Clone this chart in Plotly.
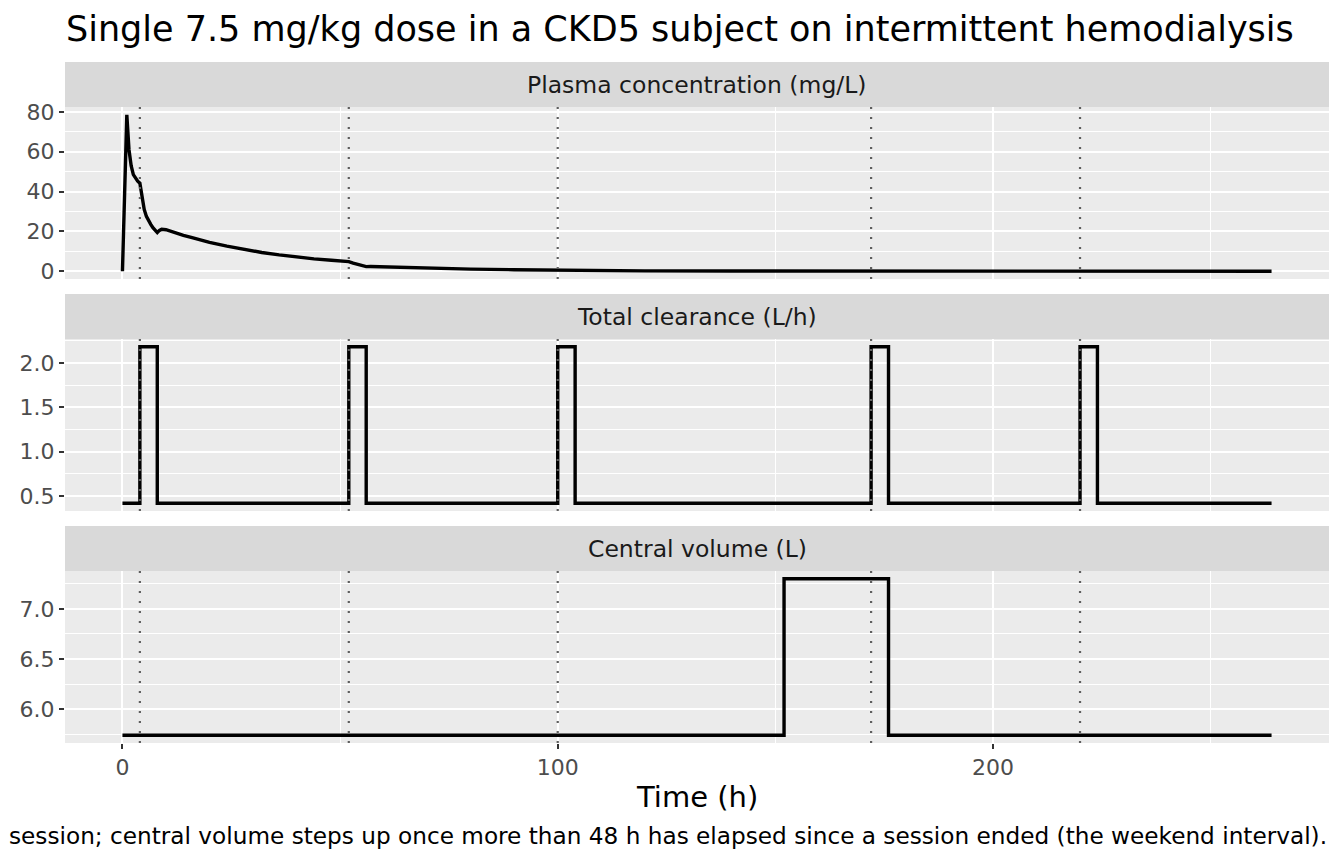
import plotly.graph_objects as go

# Data
time_conc = [0, 1, 1.5, 2, 2.5, 3, 3.5, 4, 4.5, 5, 5.5, 6, 6.5, 7, 7.5, 8, 8.5, 9,
             10, 12, 14, 16, 18, 20, 24, 28, 32, 36, 40, 44, 48, 52, 53, 54, 55, 56,
             57, 60, 70, 80, 90, 100, 102, 104, 110, 120, 140, 160, 172, 176, 200, 220, 264]
conc = [0, 78.5, 61, 53, 48.5, 46.5, 45.2, 44.2, 36, 31, 27.5, 25.2, 23.5, 21.8, 20.4, 19.4, 20.5, 21.0,
        20.8, 19.2, 18.0, 16.8, 15.6, 14.5, 12.6, 10.9, 9.4, 8.2, 7.1, 6.2, 5.5, 4.8, 4.0, 3.3, 2.8, 2.3,
        2.35, 2.15, 1.5, 1.05, 0.75, 0.55, 0.4, 0.28, 0.22, 0.16, 0.08, 0.04, 0.02, 0.01, 0.005, 0.002, 0.001]

time_cl = [0, 4, 8, 52, 56, 100, 104, 172, 176, 220, 224, 264]
clearance = [0.42, 2.18, 0.42, 2.18, 0.42, 2.18, 0.42, 2.18, 0.42, 2.18, 0.42, 0.42]

time_v = [0, 152, 176, 264]
volume = [5.74, 7.30, 5.74, 5.74]

session_starts = [4, 52, 100, 172, 220]

panel_titles = ["Plasma concentration (mg/L)", "Total clearance (L/h)", "Central volume (L)"]

title = "Single 7.5 mg/kg dose in a CKD5 subject on intermittent hemodialysis"
caption = ("session; central volume steps up once more than 48 h has elapsed "
           "since a session ended (the weekend interval).")

# the page puts the figure 8px in from the corner, so everything is laid out 8px up/left
OFF = 8
W, H = 1344 - OFF, 864 - OFF
FONT = "DejaVu Sans"

# panel geometry in pixels (top, bottom), as in the reference
panels_px = [(107, 279), (339, 511), (571, 743)]
strip_h = 45
x_left, x_right = 65, 1329


def px(p):
    return (p - OFF) / W


def py(p):
    return 1 - (p - OFF) / H


fig = go.Figure()

series = [(time_conc, conc), (time_cl, clearance), (time_v, volume)]
line_shapes = ["linear", "hv", "hv"]
for i, ((tx, ty), shp) in enumerate(zip(series, line_shapes)):
    sfx = "" if i == 0 else str(i + 1)
    fig.add_trace(go.Scatter(x=tx, y=ty, mode="lines",
                             line=dict(color="black", width=3.4, shape=shp),
                             xaxis="x" + sfx, yaxis="y" + sfx,
                             showlegend=False, hoverinfo="skip"))

ydticks = [(0, 20, 10), (0.5, 0.5, 0.25), (6.0, 0.5, 0.25)]
tickfmt = ["", ".1f", ".1f"]
TICK = 22

layout = dict(
    width=W, height=H,
    margin=dict(l=0, r=0, t=0, b=0),
    paper_bgcolor="white", plot_bgcolor="#EBEBEB",
    font=dict(family=FONT, color="#4D4D4D", size=TICK),
    showlegend=False,
)

shapes = []
annotations = []
for i, (top, bot) in enumerate(panels_px):
    sfx = "" if i == 0 else str(i + 1)
    xa = dict(domain=[px(x_left), px(x_right)], range=[-13.2, 277.2],
              anchor="y" + sfx, showgrid=True, gridcolor="white", gridwidth=2.2,
              tick0=0, dtick=100, zeroline=False, showline=False, automargin=False,
              minor=dict(tick0=0, dtick=50, showgrid=True, gridcolor="white", gridwidth=1.1),
              ticks="outside" if i == 2 else "", ticklen=5, tickcolor="#333333", tickwidth=2,
              showticklabels=(i == 2), tickfont=dict(size=TICK, color="#4D4D4D"))
    if i > 0:
        xa["matches"] = "x"
    t0, dt, mdt = ydticks[i]
    ya = dict(domain=[py(bot), py(top)], anchor="x" + sfx, showgrid=True,
              gridcolor="white", gridwidth=2.2, zeroline=False, showline=False,
              tick0=t0, dtick=dt, tickformat=tickfmt[i], automargin=False,
              minor=dict(tick0=t0, dtick=mdt, showgrid=True, gridcolor="white", gridwidth=1.1),
              ticks="outside", ticklen=5, tickcolor="#333333", tickwidth=2,
              tickfont=dict(size=TICK, color="#4D4D4D"))
    ys = series[i][1]
    lo, hi = min(ys), max(ys)
    pad = (hi - lo) * 0.05
    ya["range"] = [lo - pad, hi + pad]
    layout["xaxis" + sfx] = xa
    layout["yaxis" + sfx] = ya

    # facet strip
    shapes.append(dict(type="rect", xref="paper", yref="paper",
                       x0=px(x_left), x1=px(x_right), y0=py(top), y1=py(top - strip_h),
                       fillcolor="#D9D9D9", line=dict(width=0), layer="below"))
    annotations.append(dict(text=panel_titles[i], xref="paper", yref="paper",
                            x=px((x_left + x_right) / 2), y=py(top - strip_h / 2),
                            xanchor="center", yanchor="middle", showarrow=False,
                            font=dict(size=23.5, color="#1A1A1A")))
    # dialysis session starts
    for s in session_starts:
        shapes.append(dict(type="line", xref="x" + sfx, yref="y" + sfx + " domain",
                           x0=s, x1=s, y0=0, y1=1,
                           line=dict(color="#5E5E5E", width=2.2, dash="2px,8px"),
                           layer="above"))

annotations.append(dict(text=title, xref="paper", yref="paper",
                        x=px(64), y=py(29), xanchor="left", yanchor="middle",
                        showarrow=False, font=dict(size=35, color="black")))
annotations.append(dict(text="Time (h)", xref="paper", yref="paper",
                        x=px((x_left + x_right) / 2), y=py(797), xanchor="center",
                        yanchor="middle", showarrow=False,
                        font=dict(size=29, color="black")))
annotations.append(dict(text=caption, xref="paper", yref="paper",
                        x=px(x_right), y=py(835), xanchor="right", yanchor="middle",
                        showarrow=False, font=dict(size=23.2, color="black")))

layout["shapes"] = shapes
layout["annotations"] = annotations
fig.update_layout(**layout)

fig.write_html("out.html")
